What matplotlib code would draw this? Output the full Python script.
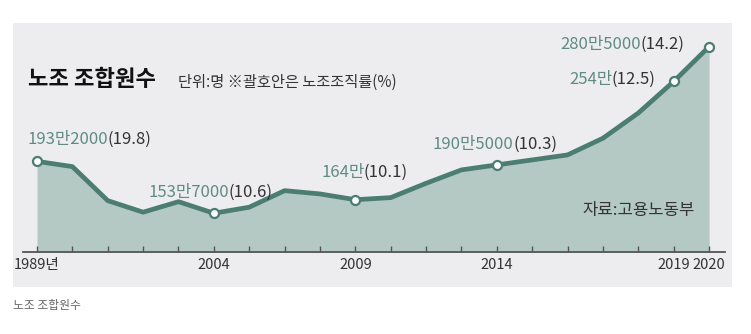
import matplotlib
matplotlib.use("Agg")
import matplotlib.pyplot as plt
from matplotlib.patches import Rectangle

plt.rcParams['font.family'] = ['Noto Sans CJK KR', 'DejaVu Sans']

# union members (unit: 10,000 persons), one point per tick
members = [193.2, 189.2, 163.3, 154.5, 162.5, 153.7, 158.3, 170.9, 168.4, 164.0,
           165.6, 176.5, 186.7, 190.5, 194.3, 198.1, 210.8, 230.0, 254.0, 280.5]
tick_labels = ['1989년', '', '', '', '', '2004', '', '', '', '2009',
               '', '', '', '2014', '', '', '', '', '2019', '2020']

# annotated points: index, member label, union density label
marked = [0, 5, 9, 13, 18, 19]
count_text = ['193만2000', '153만7000', '164만', '190만5000', '254만', '280만5000']
rate_text = ['(19.8)', '(10.6)', '(10.1)', '(10.3)', '(12.5)', '(14.2)']

W, H = 751, 334
fig = plt.figure(figsize=(W / 100, H / 100), dpi=100)

def fx(px):
    return px / W

def fy(py):
    return 1 - py / H

# grey panel
fig.patches.append(Rectangle((fx(13), fy(287)), fx(732) - fx(13), fy(23) - fy(287),
                             transform=fig.transFigure, facecolor='#ededef',
                             edgecolor='none', zorder=-5))

ax = fig.add_axes([fx(23), fy(252), fx(725) - fx(23), fy(23) - fy(252)])
ax.set_facecolor('none')
ax.set_zorder(2)

x = list(range(len(members)))
line_c = '#4b7d71'
fill_c = '#b4c8c4'
num_c = '#5f8c82'
dark = '#333333'

ax.set_xlim(-0.396, 19.45)
ax.set_ylim(124.2, 298.5)

ax.fill_between(x, members, 124.2, color=fill_c, lw=0, zorder=1)
ax.plot(x, members, color=line_c, lw=3.4, solid_joinstyle='round', zorder=2)
ax.plot([x[i] for i in marked], [members[i] for i in marked], 'o', ms=6.5,
        mfc='white', mec=line_c, mew=1.6, zorder=3)

# label offsets in points (dx, dy) from each marked point
offsets = [(-6.5, 16), (-47, 15), (-24.5, 19.5), (-46, 15), (-75, 1.5), (-107, 1.5)]
for k, i in enumerate(marked):
    t1 = ax.annotate(count_text[k], (x[i], members[i]), xytext=offsets[k],
                     textcoords='offset points', ha='left', va='center',
                     fontsize=12, color=num_c, zorder=4)
    ax.annotate(rate_text[k], xy=(1, 0.5), xycoords=t1, xytext=(-0.5, 0),
                textcoords='offset points', ha='left', va='center',
                fontsize=12, color=dark, zorder=4)

for s in ['top', 'right', 'left']:
    ax.spines[s].set_visible(False)
ax.spines['bottom'].set_color('#555555')
ax.spines['bottom'].set_linewidth(1.3)
ax.set_yticks([])
ax.set_xticks(x)
ax.set_xticklabels(tick_labels)
ax.tick_params(axis='x', direction='in', length=4, width=1, color='#555555',
               pad=4, labelsize=10.5, labelcolor=dark)

fig.text(fx(28), fy(80), '노조 조합원수', fontsize=16, fontweight='bold',
         color='#111111', va='center', ha='left')
fig.text(fx(178), fy(82), '단위:명 ※괄호안은 노조조직률(%)', fontsize=11,
         color=dark, va='center', ha='left')
fig.text(fx(582), fy(211), '자료:고용노동부', fontsize=12, color=dark,
         va='center', ha='left')
fig.text(fx(13), fy(306), '노조 조합원수', fontsize=8.5, color='#666666',
         va='center', ha='left')

fig.savefig('out.png', dpi=100)
